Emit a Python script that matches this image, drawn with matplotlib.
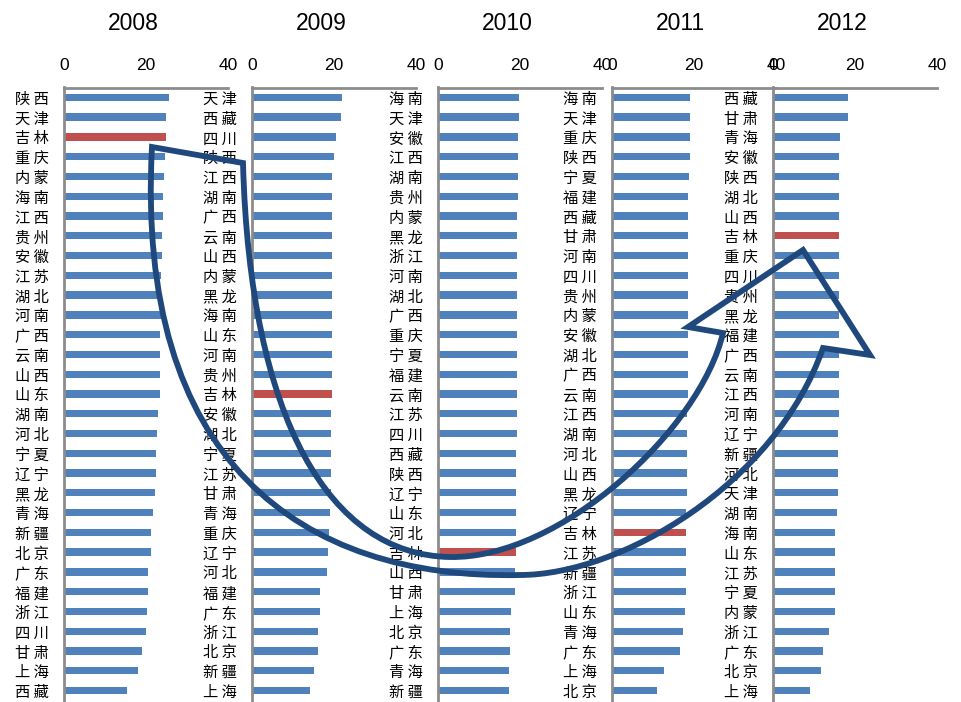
import numpy as np
import matplotlib
matplotlib.use("Agg")
import matplotlib.pyplot as plt
from matplotlib.path import Path
from matplotlib.patches import PathPatch

plt.rcParams['font.family'] = ['Noto Sans CJK SC', 'DejaVu Sans']

years = ["2008", "2009", "2010", "2011", "2012"]

prov_2008 = ["陕西", "天津", "吉林", "重庆", "内蒙", "海南", "江西", "贵州", "安徽", "江苏",
             "湖北", "河南", "广西", "云南", "山西", "山东", "湖南", "河北", "宁夏", "辽宁",
             "黑龙", "青海", "新疆", "北京", "广东", "福建", "浙江", "四川", "甘肃", "上海", "西藏"]
val_2008 = [25.7, 24.9, 24.9, 24.6, 24.5, 24.2, 24.1, 23.8, 23.8, 23.7,
            23.7, 23.6, 23.5, 23.5, 23.4, 23.3, 22.9, 22.7, 22.5, 22.4,
            22.1, 21.7, 21.3, 21.1, 20.6, 20.4, 20.2, 19.9, 19.1, 18.1, 15.4]

prov_2009 = ["天津", "西藏", "四川", "陕西", "江西", "湖南", "广西", "云南", "山西", "内蒙",
             "黑龙", "海南", "山东", "河南", "贵州", "吉林", "安徽", "湖北", "宁夏", "江苏",
             "甘肃", "青海", "重庆", "辽宁", "河北", "福建", "广东", "浙江", "北京", "新疆", "上海"]
val_2009 = [21.9, 21.6, 20.4, 20.0, 19.6, 19.6, 19.6, 19.6, 19.5, 19.5,
            19.5, 19.4, 19.4, 19.4, 19.4, 19.4, 19.3, 19.3, 19.2, 19.2,
            19.2, 19.1, 18.9, 18.5, 18.4, 16.7, 16.5, 16.2, 16.0, 15.0, 14.2]

prov_2010 = ["海南", "天津", "安徽", "江西", "湖南", "贵州", "内蒙", "黑龙", "浙江", "河南",
             "湖北", "广西", "重庆", "宁夏", "福建", "云南", "江苏", "四川", "西藏", "陕西",
             "辽宁", "山东", "河北", "吉林", "山西", "甘肃", "上海", "北京", "广东", "青海", "新疆"]
val_2010 = [19.8, 19.8, 19.5, 19.5, 19.4, 19.4, 19.3, 19.3, 19.3, 19.3,
            19.3, 19.3, 19.3, 19.3, 19.3, 19.2, 19.2, 19.2, 19.1, 19.1,
            19.0, 19.0, 19.0, 19.0, 18.8, 18.8, 17.9, 17.6, 17.6, 17.2, 17.3]

prov_2011 = ["海南", "天津", "重庆", "陕西", "宁夏", "福建", "西藏", "甘肃", "河南", "四川",
             "贵州", "内蒙", "安徽", "湖北", "广西", "云南", "江西", "湖南", "河北", "山西",
             "黑龙", "辽宁", "吉林", "江苏", "新疆", "浙江", "山东", "青海", "广东", "上海", "北京"]
val_2011 = [19.1, 19.1, 19.1, 19.0, 18.7, 18.6, 18.6, 18.6, 18.5, 18.5,
            18.5, 18.5, 18.5, 18.5, 18.5, 18.5, 18.4, 18.4, 18.2, 18.2,
            18.2, 18.0, 18.1, 18.0, 18.0, 18.0, 17.9, 17.4, 16.5, 12.6, 11.0]

prov_2012 = ["西藏", "甘肃", "青海", "安徽", "陕西", "湖北", "山西", "吉林", "重庆", "四川",
             "贵州", "黑龙", "福建", "广西", "云南", "江西", "河南", "辽宁", "新疆", "河北",
             "天津", "湖南", "海南", "山东", "江苏", "宁夏", "内蒙", "浙江", "广东", "北京", "上海"]
val_2012 = [18.2, 18.2, 16.3, 16.1, 16.1, 16.1, 16.1, 16.1, 16.1, 16.1,
            16.1, 16.1, 16.1, 16.1, 16.1, 16.0, 16.0, 15.9, 15.8, 15.8,
            15.8, 15.6, 15.2, 15.2, 15.1, 15.0, 15.0, 13.7, 12.1, 11.7, 9.0]

provinces = [prov_2008, prov_2009, prov_2010, prov_2011, prov_2012]
values = [val_2008, val_2009, val_2010, val_2011, val_2012]
highlight = "吉林"
x_ticks = [0, 20, 40]

BLUE = "#4F81BD"
RED = "#C0504D"
GREY = "#8C8C8C"
ARROW = "#1F497D"

W, H = 961, 702
fig = plt.figure(figsize=(W / 100, H / 100), dpi=100)

lefts = [64, 252, 438, 612, 773]   # pixel position of each panel's zero line
panel_w = 164
top = 87.5
row = 19.77

for left, year, provs, vals in zip(lefts, years, provinces, values):
    ax = fig.add_axes([left / W, 0, panel_w / W, (H - top) / H])
    ax.set_facecolor("none")
    y = np.arange(len(provs))
    colors = [RED if p == highlight else BLUE for p in provs]
    ax.barh(y, vals, height=0.37, color=colors)
    ax.set_xlim(0, 40)
    ax.set_ylim(-0.5 + (H - top) / row, -0.5)
    ax.set_yticks(y, [" ".join(p) for p in provs])
    ax.xaxis.tick_top()
    ax.set_xticks(x_ticks)
    ax.set_xticklabels([str(t) for t in x_ticks], family="Liberation Sans", fontsize=12.5)
    ax.tick_params(axis="x", length=0, pad=10.5)
    ax.tick_params(axis="y", length=0, pad=11, labelsize=11)
    for s in ["right", "bottom"]:
        ax.spines[s].set_visible(False)
    for s in ["left", "top"]:
        ax.spines[s].set_color(GREY)
        ax.spines[s].set_linewidth(2)
    ax.text(0.42, 1 + 64 / (H - top), year, transform=ax.transAxes,
            ha="center", va="center", family="Liberation Sans", fontsize=16.5)

# curved arrow outline, bezier segments in pixel coordinates (origin top-left)
M, L, C = Path.MOVETO, Path.LINETO, Path.CURVE4
pts = [
    ((152, 147), M), ((243, 163), L),
    ((250, 420), C), ((330, 555), C), ((450, 557), C),
    ((560, 559), C), ((700, 430), C), ((723, 333), C),
    ((688, 327), L), ((803, 250), L), ((870, 355), L), ((823, 348), L),
    ((775, 485), C), ((620, 575), C), ((520, 575), C),
    ((300, 580), C), ((135, 460), C), ((152, 147), C),
    ((152, 147), Path.CLOSEPOLY),
]
xy = np.array([p for p, _ in pts], dtype=float)
verts = np.column_stack([xy[:, 0] / W, 1 - xy[:, 1] / H])
codes = [c for _, c in pts]
arrow = PathPatch(Path(verts, codes), facecolor="none", edgecolor=ARROW,
                  linewidth=4.2, joinstyle="miter", transform=fig.transFigure, zorder=10)
fig.add_artist(arrow)

fig.savefig("out.png", dpi=100)
